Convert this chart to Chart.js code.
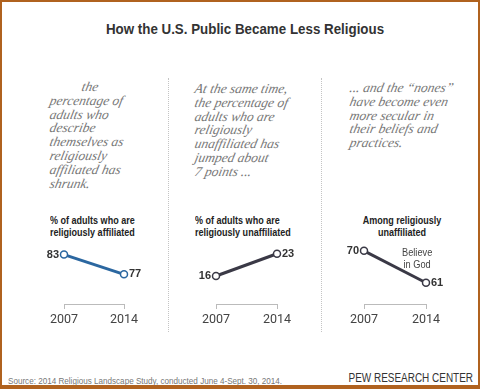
<!DOCTYPE html>
<html>
<head>
<meta charset="utf-8">
<script src="https://cdn.jsdelivr.net/npm/chart.js@4.4.1/dist/chart.umd.min.js"></script>
<style>
  html, body { margin: 0; padding: 0; background: #fff; }
  #frame {
    position: relative; width: 480px; height: 389px; box-sizing: border-box;
    border: 2px solid #b0621f; border-bottom-width: 4px; overflow: hidden;
  }
  .abs { position: absolute; white-space: nowrap; }
  #title {
    left: 5px; width: 476px; top: 18px; text-align: center;
    font: bold 15px "Liberation Sans", sans-serif; color: #333;
    transform: scaleX(0.89);
  }
  .story {
    font-family: "Liberation Serif", serif; font-style: italic;
    font-size: 13.5px; line-height: 13.8px; color: #777;
  }
  /* fake slant, one line at a time */
  .story div { transform: skewX(-12deg); transform-origin: 0 80%; }
  .sub {
    font: bold 11px/12px "Liberation Sans", sans-serif; color: #222;
    transform: scaleX(0.82); transform-origin: left top;
  }
  .sep { top: 76px; height: 254px; width: 0; border-left: 1px dotted #c4c4c4; }
  canvas { position: absolute; }
  #source {
    left: 6px; top: 374px;
    font: 9px "Liberation Sans", sans-serif; color: #777;
    transform: scaleX(0.9); transform-origin: left top;
  }
  #pew {
    right: 5px; top: 369px;
    font: 12px "Liberation Sans", sans-serif; color: #333;
    transform: scaleX(0.83); transform-origin: right top;
  }
  #god {
    left: 400px; top: 245px; text-align: center;
    font: 10.5px/11.5px "Liberation Sans", sans-serif; color: #444;
    transform: scaleX(0.88); transform-origin: left top;
  }
</style>
</head>
<body>
<div id="frame">
  <div id="title" class="abs">How the U.S. Public Became Less Religious</div>

  <div class="abs story" style="left:47px; top:78px;">
    <div style="padding-left:32px">the</div><div>percentage of</div><div>adults who</div><div>describe</div>
    <div>themselves as</div><div>religiously</div><div>affiliated has</div><div>shrunk.</div>
  </div>
  <div class="abs story" style="left:192px; top:80px;">
    <div>At the same time,</div><div>the percentage of</div><div>adults who are</div><div>religiously</div>
    <div>unaffiliated has</div><div>jumped about</div><div>7 points ...</div>
  </div>
  <div class="abs story" style="left:347px; top:79px;">
    <div>... and the “nones”</div><div>have become even</div><div>more secular in</div>
    <div>their beliefs and</div><div>practices.</div>
  </div>

  <div class="abs sub" style="left:48px; top:212px;">% of adults who are<br>religiously affiliated</div>
  <div class="abs sub" style="left:193px; top:212px;">% of adults who are<br>religiously unaffiliated</div>
  <div class="abs sub" style="left:340px; width:120px; top:212px; text-align:center; transform-origin:center top;">Among religiously<br>unaffiliated</div>

  <div class="abs sep" style="left:166px;"></div>
  <div class="abs sep" style="left:319px;"></div>

  <canvas id="c1" width="140" height="100" style="left:18px; top:238px;"></canvas>
  <canvas id="c2" width="140" height="100" style="left:170px; top:238px;"></canvas>
  <canvas id="c3" width="140" height="100" style="left:322px; top:238px;"></canvas>

  <div id="god" class="abs">Believe<br>in God</div>

  <div id="source" class="abs">Source: 2014 Religious Landscape Study, conducted June 4-Sept. 30, 2014.</div>
  <div id="pew" class="abs">PEW RESEARCH CENTER</div>
</div>

<script>
const years = [2007, 2014];
const affiliated = [83, 77];
const unaffiliated = [16, 23];
const believeInGod = [70, 61];

const blue = '#2b67a0';
const dark = '#3a3946';

// value labels: first point on the left, last point on the right
const valueLabels = {
  id: 'valueLabels',
  afterDatasetsDraw(chart) {
    const ctx = chart.ctx;
    const meta = chart.getDatasetMeta(0);
    ctx.save();
    ctx.font = 'bold 11px "Liberation Sans", sans-serif';
    ctx.fillStyle = '#333';
    ctx.textBaseline = 'middle';
    meta.data.forEach((pt, i) => {
      const v = chart.data.datasets[0].data[i].y;
      if (i === 0) {
        ctx.textAlign = 'right';
        ctx.fillText(v, pt.x - 5, pt.y);
      } else {
        ctx.textAlign = 'left';
        ctx.fillText(v, pt.x + 5, pt.y);
      }
    });
    ctx.restore();
  }
};

function makeChart(id, values, color, pad, yMin, yMax) {
  new Chart(document.getElementById(id), {
    type: 'line',
    data: {
      datasets: [{
        data: years.map((y, i) => ({ x: y, y: values[i] })),
        borderColor: color,
        borderWidth: 3,
        pointRadius: 3.5,
        pointBorderWidth: 1.5,
        pointBackgroundColor: '#fff',
        pointBorderColor: color,
        clip: false,
        tension: 0,
      }]
    },
    options: {
      responsive: false,
      animation: false,
      events: [],
      layout: { padding: { left: pad[0], right: pad[1], top: 8, bottom: 6 } },
      plugins: { legend: { display: false }, tooltip: { enabled: false } },
      scales: {
        x: {
          type: 'linear',
          min: years[0],
          max: years[1],
          afterBuildTicks: (axis) => { axis.ticks = years.map(v => ({ value: v })); },
          afterFit: (axis) => { axis.height = 30; },
          border: { display: true, color: '#bbb', width: 1 },
          grid: { display: true, drawOnChartArea: false, drawTicks: true, tickLength: 5, color: '#bbb' },
          ticks: {
            padding: 3,
            color: '#444',
            font: { family: 'Roboto', size: 12.5 },
            maxRotation: 0,
            callback: (v) => String(v),
          }
        },
        y: { display: false, min: yMin, max: yMax }
      }
    },
    plugins: [valueLabels]
  });
}

// chart area: top 246, bottom 304 (58px tall)
makeChart('c1', affiliated, blue, [44, 36], 68.0, 85.0);
makeChart('c2', unaffiliated, dark, [44, 35], 7.2, 24.8);
makeChart('c3', believeInGod, dark, [40, 38], 55.0, 70.8);
</script>
</body>
</html>
